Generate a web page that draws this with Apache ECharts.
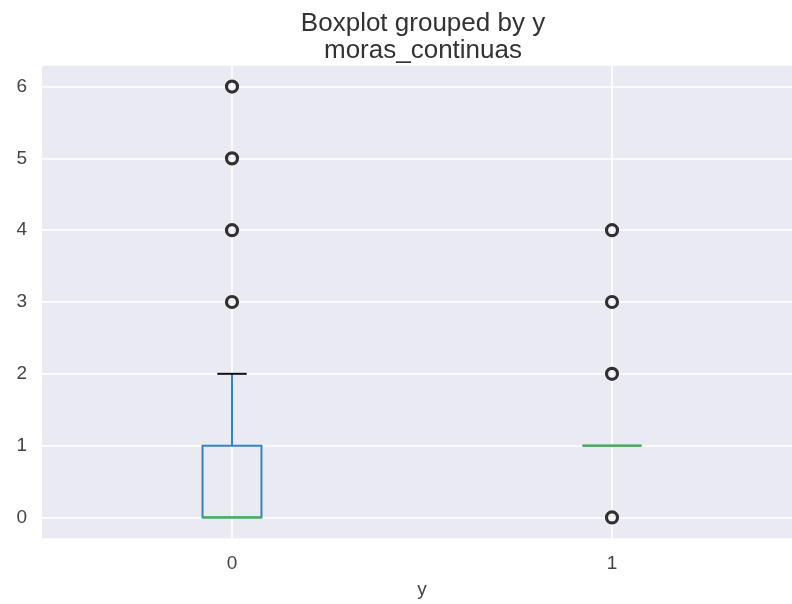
<!DOCTYPE html>
<html><head><meta charset="utf-8">
<script src="https://cdn.jsdelivr.net/npm/echarts@6/dist/echarts.min.js"></script>
<style>html,body{margin:0;padding:0;background:#fff;overflow:hidden}#c{width:802px;height:604px}</style>
</head><body><div id="c"></div>
<script>
// ---- data ----
const categories = ['0', '1'];
const yTicks = [0, 1, 2, 3, 4, 5, 6];
const whiskerLow = [0, 1];
const q1 = [0, 1];
const median = [0, 1];
const q3 = [1, 1];
const whiskerHigh = [2, 1];
const outliersGroup0 = [3, 4, 5, 6];
const outliersGroup1 = [0, 2, 3, 4];
const titleLines = ['Boxplot grouped by y', 'moras_continuas'];
const xName = 'y';

// ---- build ----
const boxData = categories.map((c, i) => [i, whiskerLow[i], q1[i], median[i], q3[i], whiskerHigh[i]]);
const outlierData = [
  ...outliersGroup0.map(v => [0, v]),
  ...outliersGroup1.map(v => [1, v])
];

const chart = echarts.init(document.getElementById('c'), null, {renderer: 'canvas'});
const FONT = 'Liberation Sans, Arial, Helvetica, sans-serif';

chart.setOption({
  animation: false,
  backgroundColor: '#ffffff',
  graphic: [
    {type: 'text', z: 10, style: {text: titleLines[0], x: 423, y: 24, align: 'center', verticalAlign: 'middle', fontFamily: FONT, fontSize: 26, fill: '#333333'}},
    {type: 'text', z: 10, style: {text: titleLines[1], x: 423, y: 51, align: 'center', verticalAlign: 'middle', fontFamily: FONT, fontSize: 26, fill: '#333333'}}
  ],
  grid: {left: 42, top: 65, width: 760, height: 475, show: true, backgroundColor: '#EAEAF2', borderWidth: 0, containLabel: false},
  xAxis: {
    type: 'category',
    data: categories,
    boundaryGap: true,
    name: xName,
    nameLocation: 'middle',
    nameGap: 41,
    nameTextStyle: {fontFamily: FONT, fontSize: 19, color: '#444444'},
    axisLine: {show: false},
    axisTick: {show: false, alignWithLabel: true},
    axisLabel: {fontFamily: FONT, fontSize: 19, color: '#444444', margin: 15},
    splitLine: {show: true, alignWithLabel: true, lineStyle: {color: '#ffffff', width: 1.6}}
  },
  yAxis: {
    type: 'value',
    min: -0.3,
    max: 6.3,
    splitNumber: 6,
    axisLine: {show: false},
    axisTick: {show: false},
    axisLabel: {
      fontFamily: FONT, fontSize: 19, color: '#444444', margin: 15,
      showMinLabel: false, showMaxLabel: false,
      formatter: v => (yTicks.indexOf(v) >= 0 ? String(v) : '')
    },
    splitLine: {show: true, lineStyle: {color: '#ffffff', width: 1.6}}
  },
  series: [
    {
      type: 'custom',
      z: 3,
      data: boxData,
      renderItem: function (params, api) {
        const x = api.value(0);
        const lo = api.value(1), a = api.value(2), m = api.value(3), b = api.value(4), hi = api.value(5);
        const band = api.size([1, 0])[0];
        const bw = band * 0.155, cw = bw / 2;
        const c = v => api.coord([x, v]);
        const pLo = c(lo), pQ1 = c(a), pM = c(m), pQ3 = c(b), pHi = c(hi);
        const cx = pM[0];
        const blue = {stroke: '#3582c4', lineWidth: 2, fill: null};
        const kids = [];
        kids.push({type: 'rect', z2: 1, shape: {x: cx - bw / 2, y: pQ3[1], width: bw, height: pQ1[1] - pQ3[1]}, style: blue});
        if (hi > b) kids.push({type: 'line', z2: 1, shape: {x1: cx, y1: pQ3[1], x2: cx, y2: pHi[1]}, style: blue});
        if (lo < a) kids.push({type: 'line', z2: 1, shape: {x1: cx, y1: pQ1[1], x2: cx, y2: pLo[1]}, style: blue});
        if (hi > b) kids.push({type: 'line', z2: 2, shape: {x1: cx - cw / 2, y1: pHi[1], x2: cx + cw / 2, y2: pHi[1]}, style: {stroke: '#111111', lineWidth: 2}});
        if (lo < a) kids.push({type: 'line', z2: 2, shape: {x1: cx - cw / 2, y1: pLo[1], x2: cx + cw / 2, y2: pLo[1]}, style: {stroke: '#111111', lineWidth: 2}});
        kids.push({type: 'line', z2: 5, shape: {x1: cx - bw / 2, y1: pM[1], x2: cx + bw / 2, y2: pM[1]}, style: {stroke: '#4fae52', lineWidth: 2.2}});
        return {type: 'group', children: kids};
      }
    },
    {
      type: 'scatter',
      z: 4,
      data: outlierData,
      symbol: 'circle',
      symbolSize: 11,
      itemStyle: {color: 'rgba(0,0,0,0)', borderColor: '#000000', borderWidth: 3.2}
    }
  ]
});
</script>
</body></html>
